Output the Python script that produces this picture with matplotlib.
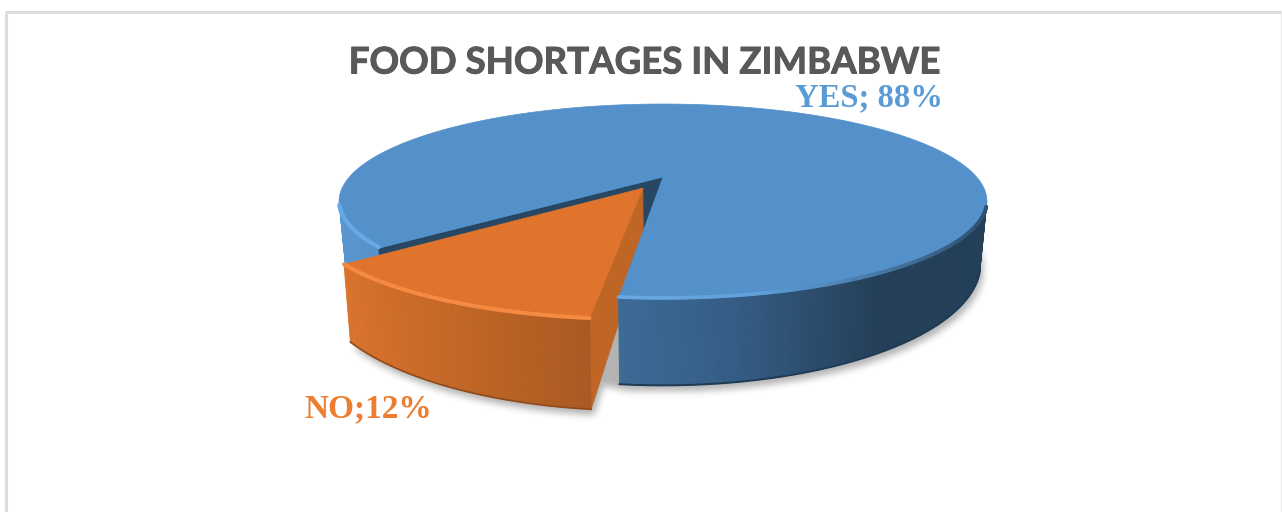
import numpy as np
import matplotlib
matplotlib.use('Agg')
import matplotlib.pyplot as plt
import matplotlib.patheffects as pe
from matplotlib.colors import to_rgb
from matplotlib.collections import LineCollection
from matplotlib.path import Path

title = 'FOOD SHORTAGES IN ZIMBABWE'
categories = ['YES', 'NO']
shares = [88, 12]
labels = ['YES; 88%', 'NO;12%']

# projection of the tilted disc onto the canvas, in pixels
CX, CY = 663, 177
AX_U, AX_V = 313.6, 91.3
TILT = 0.251
FIRST_ANGLE = 6.1
EXPLODE = 0.134


def project(a, r=1.0, offset=(0.0, 0.0)):
    # a is measured from the front of the disc, going towards the left
    a = np.radians(a)
    u = -np.sin(a) * r + offset[0]
    v = np.cos(a) * r + offset[1]
    w = 1 - TILT * v
    return CX + AX_U * u / w, CY + AX_V * v / w


def lower(x, y):
    # same point on the underside of the pie
    x = np.asarray(x, dtype=float)
    y = np.asarray(y, dtype=float)
    return CX + 0.98 * (x - CX), y + 86 + 0.25 * (y - 297)


def ramp(x, stops, cols):
    rgb = np.array([to_rgb(c) for c in cols])
    return [np.interp(x, stops, rgb[:, i]) for i in range(3)]


def wall(ax, angles, offset, stops, cols, z):
    tx, ty = project(angles, offset=offset)
    bx, by = lower(tx, ty)
    for i in range(len(angles) - 1):
        xs = [tx[i], tx[i + 1], bx[i + 1], bx[i]]
        ys = [ty[i], ty[i + 1], by[i + 1], by[i]]
        c = ramp((tx[i] + tx[i + 1]) / 2, stops, cols)
        ax.fill(xs, ys, color=c, lw=0.6, zorder=z)
    return tx, ty, bx, by


def rim(ax, x, y, cols, lw, z):
    pts = np.column_stack([x, y])
    segs = np.stack([pts[:-1], pts[1:]], axis=1)
    lc = LineCollection(segs, colors=cols, linewidths=lw, capstyle='round', zorder=z)
    ax.add_collection(lc)


def soft_shadow(ax, polys, dx, dy, blur, strength, z):
    gx, gy = np.meshgrid(np.arange(1282) + 0.5, np.arange(512) + 0.5)
    grid = np.column_stack([gx.ravel(), gy.ravel()])
    mask = np.zeros(gx.shape)
    for px, py in polys:
        inside = Path(np.column_stack([px + dx, py + dy])).contains_points(grid)
        mask = np.maximum(mask, inside.reshape(gx.shape).astype(float))
    kernel = np.ones(blur) / blur
    for _ in range(3):
        mask = np.apply_along_axis(lambda r: np.convolve(r, kernel, mode='same'), 0, mask)
        mask = np.apply_along_axis(lambda r: np.convolve(r, kernel, mode='same'), 1, mask)
    img = np.zeros(gx.shape + (4,))
    img[..., 3] = mask * strength
    ax.imshow(img, extent=(0, 1282, 512, 0), aspect='auto', interpolation='bilinear', zorder=z)


fig = plt.figure(figsize=(12.82, 5.12), dpi=100)
ax = fig.add_axes([0, 0, 1, 1])

# chart frame, open at the bottom
ax.plot([6, 6], [512, 12], color='#dcdcdc', lw=2.2, zorder=1, solid_capstyle='butt')
ax.plot([5, 1282], [12, 12], color='#dcdcdc', lw=2.2, zorder=1, solid_capstyle='butt')
ax.plot([1281.5, 1281.5], [12, 512], color='#ececec', lw=1.5, zorder=1)

sweep = [s * 3.6 for s in shares]
no_start = FIRST_ANGLE
no_end = FIRST_ANGLE + sweep[1]
yes_end = no_start - sweep[0]
mid = np.radians((no_start + no_end) / 2)
off = (-np.sin(mid) * EXPLODE, np.cos(mid) * EXPLODE)

a_yes = np.linspace(no_start, -72, 200)
a_no = np.linspace(no_start, no_end, 80)

# soft shadow under both pieces
bottom_yes = lower(*project(np.linspace(no_start, yes_end, 300)))
bottom_no = lower(*project(a_no, offset=off))
bottom_no = (np.r_[lower(*project(0, r=0, offset=off))[0], bottom_no[0]],
             np.r_[lower(*project(0, r=0, offset=off))[1], bottom_no[1]])
soft_shadow(ax, [bottom_yes, bottom_no], 3, 6, 7, 0.3, 2)

# left part of the blue wall, seen behind the orange slice
a_left = np.linspace(no_end, 73, 30)
lx, ly, lbx, lby = wall(ax, a_left, (0, 0), [340, 385], ['#5a96d0', '#5790c6'], 3)

# inner cut face of the blue slice
ex, ey = project(no_end)
bex, bey = lower(ex, ey)
bcx, bcy = lower(CX, CY)
ax.fill([CX, ex, bex, bcx], [CY, ey, bey, bcy], color='#274763', lw=0.5, zorder=4)

# cut face of the orange slice
ocx, ocy = project(0, r=0, offset=off)
orx, ory = project(no_start, offset=off)
bocx, bocy = lower(ocx, ocy)
borx, bory = lower(orx, ory)
ax.fill([ocx, orx, borx, bocx], [ocy, ory, bory, bocy], color='#bf6526', lw=0.5, zorder=5)

# blue top surface, then its front wall
a_top = np.linspace(no_start, yes_end, 300)
tx, ty = project(a_top)
ax.fill(np.r_[CX, tx], np.r_[CY, ty], color='#5490c9', lw=0.5, zorder=6)

fx, fy, fbx, fby = wall(ax, a_yes, (0, 0), [619, 740, 880, 990],
                        ['#3c6b96', '#345c84', '#243f58', '#243f58'], 7)
ax.plot(fbx, fby, color='#1f3a55', lw=1.4, zorder=8)

# highlight on the rim fades out towards the dark right side
mx = (fx[:-1] + fx[1:]) / 2
rim_cols = np.column_stack(ramp(mx, [619, 760, 880, 990],
                                ['#68a8e4', '#5f9fda', '#4878a6', '#2d4f70']))
rim(ax, fx, fy - 1, rim_cols, 2.6, 9)
rim(ax, lx, ly - 1, ['#66a8e8'] * (len(lx) - 1), 3, 9)

# orange slice in front of everything else
ox, oy = project(a_no, offset=off)
ax.fill(np.r_[ocx, ox], np.r_[ocy, oy], color='#e0742c', lw=0.5, zorder=10)
wx, wy, wbx, wby = wall(ax, a_no, off, [346, 470, 591], ['#d9722c', '#bf6526', '#a85a22'], 10)
ax.plot(wbx, wby, color='#8f4a1a', lw=1.2, zorder=11)
rim(ax, wx, wy, ['#f58b42'] * (len(wx) - 1), 2.8, 12)

ax.text(644.5, 63, title, family='Lato', fontweight='bold', fontsize=26.4, color='#595959',
        ha='center', va='center', zorder=20,
        path_effects=[pe.withStroke(linewidth=0.7, foreground='#595959')])
ax.text(869, 98, labels[0], family='Liberation Serif', fontweight='bold', fontsize=23.5,
        color='#5b9bd5', ha='center', va='center', zorder=20)
ax.text(368, 409, labels[1], family='Liberation Serif', fontweight='bold', fontsize=24,
        color='#ed7d31', ha='center', va='center', zorder=20)

ax.set_xlim(0, 1282)
ax.set_ylim(512, 0)
ax.axis('off')

fig.savefig('out.png', dpi=100, facecolor='white')
